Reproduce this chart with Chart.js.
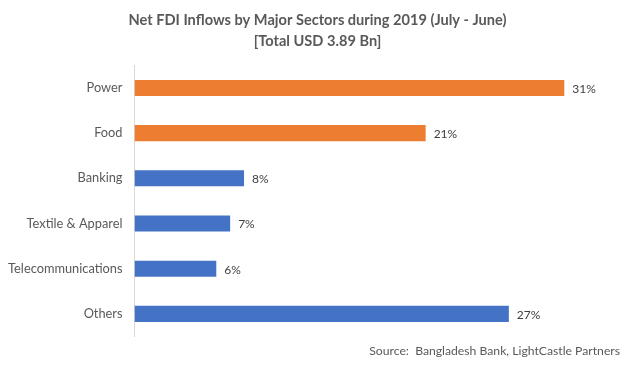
<!DOCTYPE html>
<html>
<head>
<meta charset="utf-8">
<script src="https://cdn.jsdelivr.net/npm/chart.js@4"></script>
<style>
  html, body { margin: 0; padding: 0; background: #fff; }
  #wrap { width: 635px; height: 371px; }
</style>
</head>
<body>
<div id="wrap"><canvas id="chart"></canvas></div>
<script>
const sectors = ['Power', 'Food', 'Banking', 'Textile & Apparel', 'Telecommunications', 'Others'];
const shares = [31, 21, 7.9, 6.9, 5.9, 27];
const barColors = ['#ED7D31', '#ED7D31', '#4472C4', '#4472C4', '#4472C4', '#4472C4'];
const titleLines = ['Net FDI Inflows by Major Sectors during 2019 (July - June)', '[Total USD 3.89 Bn]'];
const sourceNote = 'Source:  Bangladesh Bank, LightCastle Partners';

const fontFamily = 'Lato, "Open Sans", sans-serif';

// percent labels at the end of each bar
const barLabels = {
    id: 'barLabels',
    afterDatasetsDraw(chart){
        const ctx = chart.ctx;
        const meta = chart.getDatasetMeta(0);
        ctx.save();
        ctx.font = '12px ' + fontFamily;
        ctx.fillStyle = '#404040';
        ctx.textAlign = 'left';
        ctx.textBaseline = 'middle';
        meta.data.forEach((bar, i) => {
            ctx.fillText(Math.round(shares[i]) + '%', bar.x + 8, bar.y + 1);
        });
        ctx.restore();
    }
};

const sourceText = {
    id: 'sourceText',
    afterDraw(chart){
        const ctx = chart.ctx;
        ctx.save();
        ctx.font = '12.2px ' + fontFamily;
        ctx.fillStyle = '#595959';
        ctx.textAlign = 'right';
        ctx.textBaseline = 'middle';
        ctx.fillText(sourceNote, 620, 351);
        ctx.restore();
    }
};

new Chart(document.getElementById('chart'), {
    type: 'bar',
    data: {
        labels: sectors,
        datasets: [{
            data: shares,
            backgroundColor: barColors,
            barPercentage: 0.356,
            categoryPercentage: 1
        }]
    },
    options: {
        indexAxis: 'y',
        responsive: true,
        maintainAspectRatio: false,
        animation: false,
        layout: { padding: { top: 0, right: 0, bottom: 34.5, left: 0 } },
        scales: {
            x: { display: false, min: 0, max: 36.1 },
            y: {
                grid: { display: false, drawTicks: false },
                border: { display: true, color: '#d9d9d9', width: 1 },
                ticks: { color: '#595959', padding: 12, font: { family: fontFamily, size: 12.8 } },
                afterFit(scale){ scale.width = 134.5; }
            }
        },
        plugins: {
            legend: { display: false },
            tooltip: { enabled: false },
            title: {
                display: true,
                text: titleLines,
                color: '#595959',
                font: { family: fontFamily, size: 14.6, weight: 'bold', lineHeight: 1.45 },
                padding: { top: 10, bottom: 13 }
            }
        }
    },
    plugins: [barLabels, sourceText]
});
</script>
</body>
</html>
